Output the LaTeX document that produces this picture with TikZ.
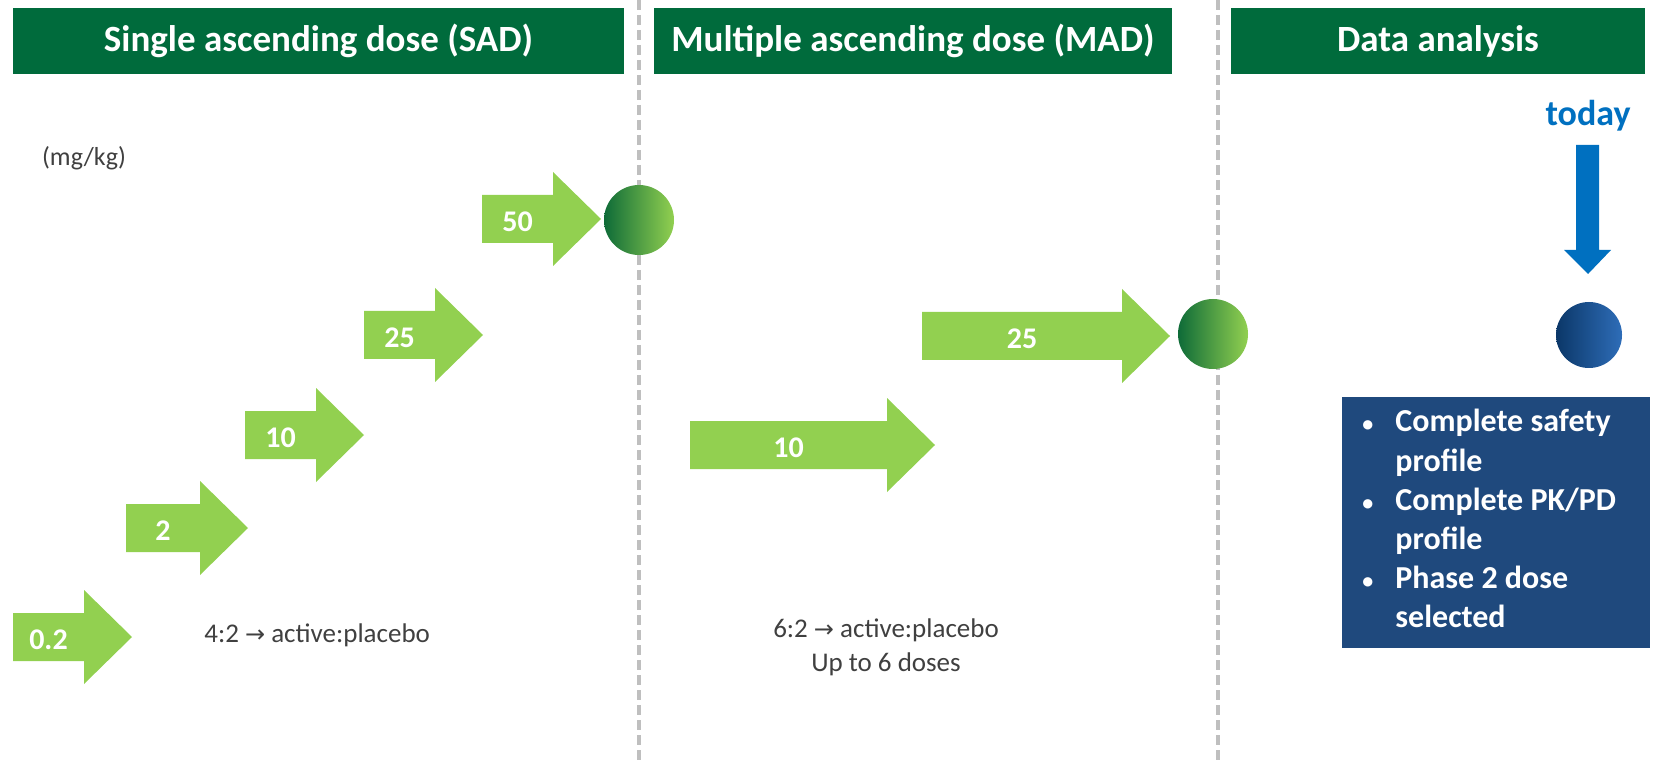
\documentclass[tikz,border=0pt]{standalone}
\usepackage{fontspec}
\setmainfont{Carlito}
\newfontfamily\symfont{DejaVu Sans}
\usepackage{tikz}
\usepackage{xcolor}
\usetikzlibrary{positioning,calc}
\definecolor{hdrgreen}{HTML}{006B3C}
\definecolor{dosegreen}{HTML}{92D050}
\definecolor{balldark}{HTML}{0E6B38}
\definecolor{todayblue}{HTML}{0070C0}
\definecolor{navybox}{HTML}{1F497D}
\definecolor{navydark}{HTML}{0B3768}
\definecolor{navylight}{HTML}{2E6DB8}
\definecolor{splitgray}{HTML}{BFBFBF}
\definecolor{notegray}{HTML}{404040}

\begin{document}
\begin{tikzpicture}[x=0.5pt, y=-0.5pt,
  hdrBar/.style ={rectangle, fill=hdrgreen, text=white, inner sep=0pt, minimum height=33pt, font=\fontsize{18.5}{22}\selectfont\bfseries},
  doseLbl/.style={text=white, inner sep=0pt, font=\fontsize{15}{18}\selectfont\bfseries},
  greenBall/.style={circle, inner sep=0pt, minimum size=35pt, left color=balldark, right color=dosegreen},
  blueBall/.style ={circle, inner sep=0pt, minimum size=33pt, left color=navydark, right color=navylight},
  splitLine/.style={splitgray, line width=1.6pt, dash pattern=on 5pt off 2.5pt},
  noteTxt/.style={text=notegray, inner sep=0pt, font=\fontsize{13.5}{17}\selectfont},
]
\useasboundingbox (0,0) rectangle (1653,764);

% phase separators
\draw[splitLine] (639,0) -- (639,764);
\draw[splitLine] (1218,0) -- (1218,764);

% phase headers
\node[hdrBar, minimum width=305.5pt] (hSAD) at (318.5,41) {Single ascending dose (SAD)};
\node[hdrBar, minimum width=259pt]   (hMAD) at (913,41)   {Multiple ascending dose (MAD)};
\node[hdrBar, minimum width=207pt]   (hDA)  at (1438,41)  {Data analysis};

\node[noteTxt, font=\fontsize{13}{16}\selectfont] (unit) at (84,158) {(mg/kg)};

% dose arrows: label / left x / centre y / body length
\foreach \lab/\xa/\yc/\len [count=\i] in {0.2/13/637/71, 2/126/528/74, 10/245/435/71,
    25/364/335/71, 50/482/219/71, 10/690/445/197, 25/922/336/200} {
  \fill[dosegreen] (\xa,{\yc-24}) -- ({\xa+\len},{\yc-24}) -- ({\xa+\len},{\yc-47})
    -- ({\xa+\len+48},\yc) -- ({\xa+\len},{\yc+47}) -- ({\xa+\len},{\yc+24})
    -- (\xa,{\yc+24}) -- cycle;
  \node[doseLbl] (dose\i) at ({\xa+\len/2},{\yc+3}) {\lab};
}

% end-of-phase markers
\node[greenBall] (endSAD) at (639,220) {};
\node[greenBall] (endMAD) at (1213,334) {};
\node[blueBall]  (now)    at (1589,335) {};

% today pointer
\node[text=todayblue, inner sep=0pt, font=\fontsize{18}{22}\selectfont\bfseries] (today) at (1588,116) {today};
\fill[todayblue] (1576,145) -- (1599,145) -- (1599,250) -- (1611,250) -- (1588,274)
  -- (1564,250) -- (1576,250) -- cycle;

% outcome box
\fill[navybox] (1342,397) rectangle (1650,648);
\node[text=white, anchor=west, inner sep=0pt, font=\fontsize{16}{19.6}\selectfont\bfseries] (outcome) at (1362,522)
  {\begin{tabular}{@{}p{16.5pt}@{}l@{}}
   {\fontsize{11}{19.6}\selectfont\textbullet} & Complete safety\\
               & profile\\
   {\fontsize{11}{19.6}\selectfont\textbullet} & Complete PK/PD\\
               & profile\\
   {\fontsize{11}{19.6}\selectfont\textbullet} & Phase 2 dose\\
               & selected
   \end{tabular}};

% allocation notes
\node[noteTxt, anchor=west] (sadRatio) at (204,635) {4:2 {\symfont\fontsize{12}{14}\selectfont →} active:placebo};
\node[noteTxt, align=center] (madRatio) at (886,647) {6:2 {\symfont\fontsize{12}{14}\selectfont →} active:placebo\\Up to 6 doses};
\end{tikzpicture}
\end{document}
